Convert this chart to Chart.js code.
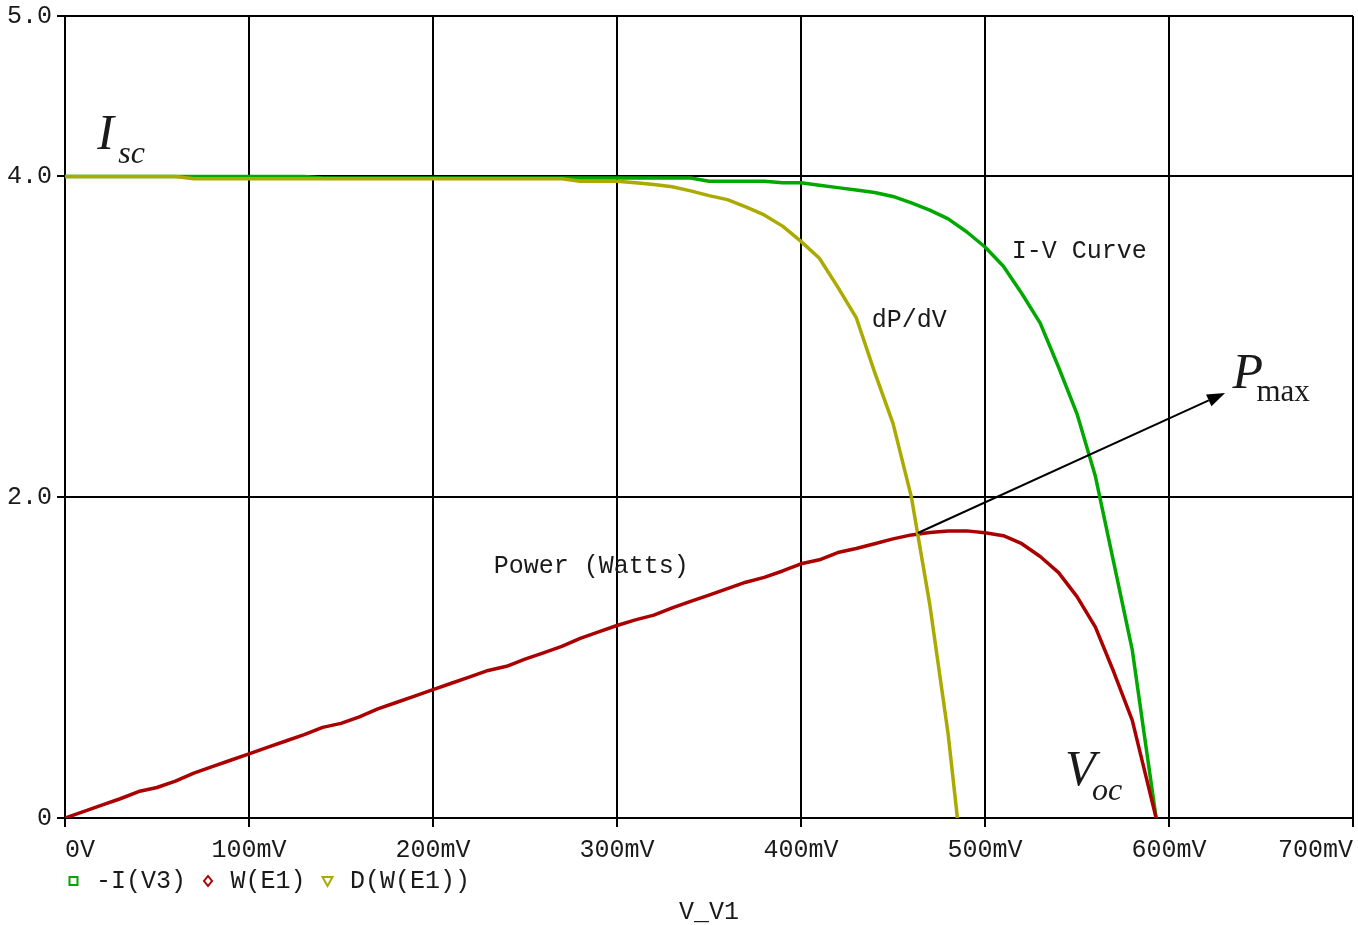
<!DOCTYPE html>
<html>
<head>
<meta charset="utf-8">
<title>Solar cell I-V and power sweep</title>
<script src="https://cdn.jsdelivr.net/npm/chart.js@4.4.1/dist/chart.umd.min.js"></script>
<style>
  html, body { margin: 0; padding: 0; background: #ffffff; }
  #wrap { width: 1358px; height: 925px; }
</style>
</head>
<body>
<div id="wrap"><canvas id="sweep" width="1358" height="925"></canvas></div>
<script>
// Sweep of V_V1 in millivolts for the cell current and power traces
const ivVoltageMv = [
  0, 10, 20, 30, 40, 50, 60, 70, 80, 90,
  100, 110, 120, 130, 140, 150, 160, 170, 180, 190,
  200, 210, 220, 230, 240, 250, 260, 270, 280, 290,
  300, 310, 320, 330, 340, 350, 360, 370, 380, 390,
  400, 410, 420, 430, 440, 450, 460, 470, 480, 490,
  500, 510, 520, 530, 540, 550, 560, 570, 580, 593
];

// -I(V3): cell current (A)
const cellCurrent = [
  4.00, 4.00, 4.00, 4.00, 4.00, 4.00, 4.00, 4.00, 4.00, 4.00,
  4.00, 4.00, 4.00, 4.00, 3.99, 3.99, 3.99, 3.99, 3.99, 3.99,
  3.99, 3.99, 3.99, 3.99, 3.99, 3.99, 3.99, 3.99, 3.99, 3.99,
  3.99, 3.99, 3.99, 3.99, 3.99, 3.97, 3.97, 3.97, 3.97, 3.96,
  3.96, 3.945, 3.93, 3.915, 3.90, 3.875, 3.835, 3.79, 3.735, 3.655,
  3.56, 3.44, 3.27, 3.085, 2.81, 2.52, 2.13, 1.59, 1.05, 0.00
];

// W(E1): delivered power (W)
const powerWatts = [
  0.00, 0.04, 0.08, 0.12, 0.165, 0.19, 0.23, 0.28, 0.32, 0.36,
  0.40, 0.44, 0.48, 0.52, 0.565, 0.59, 0.63, 0.68, 0.72, 0.76,
  0.80, 0.84, 0.88, 0.92, 0.946, 0.99, 1.03, 1.07, 1.12, 1.16,
  1.20, 1.235, 1.265, 1.31, 1.35, 1.39, 1.43, 1.47, 1.50, 1.54,
  1.585, 1.61, 1.655, 1.68, 1.71, 1.74, 1.765, 1.78, 1.79, 1.79,
  1.778, 1.76, 1.71, 1.63, 1.53, 1.38, 1.19, 0.91, 0.61, 0.00
];

// D(W(E1)): derivative of power with respect to V_V1
const dpdvVoltageMv = [
  0, 10, 20, 30, 40, 50, 60, 70, 80, 90,
  100, 110, 120, 130, 140, 150, 160, 170, 180, 190,
  200, 210, 220, 230, 240, 250, 260, 270, 280, 290,
  300, 310, 320, 330, 340, 350, 360, 370, 380, 390,
  400, 410, 420, 430, 440, 450, 460, 470, 480, 485
];
const dpdvValues = [
  4.00, 4.00, 4.00, 4.00, 4.00, 4.00, 4.00, 3.985, 3.985, 3.985,
  3.985, 3.985, 3.985, 3.985, 3.985, 3.985, 3.985, 3.985, 3.985, 3.985,
  3.985, 3.985, 3.985, 3.985, 3.985, 3.985, 3.985, 3.985, 3.97, 3.97,
  3.97, 3.96, 3.95, 3.935, 3.91, 3.88, 3.855, 3.81, 3.76, 3.69,
  3.595, 3.49, 3.31, 3.12, 2.78, 2.46, 2.00, 1.33, 0.52, 0.00
];

// Axis ticks
const xTickValuesMv = [0, 100, 200, 300, 400, 500, 600, 700];
const yTickValues = [0, 2, 4, 5];

// Trace names as probe expressions, with their colours and legend glyphs
const traceNames = ['-I(V3)', 'W(E1)', 'D(W(E1))'];
const traceColors = ['#00a800', '#aa0000', '#aaaa00'];
const traceGlyphs = ['square', 'diamond', 'triangle'];

const monoFont = '"Liberation Mono", "Courier New", monospace';
const serifFont = '"Liberation Serif", "Times New Roman", serif';
const inkColor = '#1a1a1a';

// Text labels placed in data coordinates (mV, value)
const curveNotes = [
  { text: 'I-V Curve', x: 514.5, y: 3.53 },
  { text: 'dP/dV', x: 438.5, y: 3.10 },
  { text: 'Power (Watts)', x: 233, y: 1.57 }
];

// Symbol labels: main letter (italic) plus subscript
const symbolNotes = [
  { main: 'I', sub: 'sc', subItalic: true, x: 17.5, y: 4.173, subDx: 21, subDy: 14, mainSize: 50, subSize: 32 },
  { main: 'V', sub: 'oc', subItalic: true, x: 543.5, y: 0.205, subDx: 27, subDy: 15, mainSize: 50, subSize: 32 },
  { main: 'P', sub: 'max', subItalic: false, x: 634.5, y: 2.68, subDx: 24, subDy: 13, mainSize: 50, subSize: 31 }
];

// Arrow from the maximum power point out to the P_max label
const pmaxArrow = { fromX: 463.5, fromY: 1.777, toX: 630.5, toY: 2.65 };

function toPoints(xs, ys) {
  return xs.map((x, i) => ({ x: x, y: ys[i] }));
}

const notesPlugin = {
  id: 'curveNotes',
  afterDatasetsDraw(chart) {
    const { ctx, scales: { x, y } } = chart;
    ctx.save();
    ctx.fillStyle = inkColor;
    ctx.font = '25px ' + monoFont;
    ctx.textAlign = 'left';
    ctx.textBaseline = 'middle';
    curveNotes.forEach(n => {
      ctx.fillText(n.text, x.getPixelForValue(n.x), y.getPixelForValue(n.y));
    });

    ctx.textBaseline = 'alphabetic';
    symbolNotes.forEach(s => {
      const px = x.getPixelForValue(s.x);
      const py = y.getPixelForValue(s.y);
      ctx.font = 'italic ' + s.mainSize + 'px ' + serifFont;
      ctx.fillText(s.main, px, py);
      ctx.font = (s.subItalic ? 'italic ' : '') + s.subSize + 'px ' + serifFont;
      ctx.fillText(s.sub, px + s.subDx, py + s.subDy);
    });

    // arrow shaft and head
    const x0 = x.getPixelForValue(pmaxArrow.fromX);
    const y0 = y.getPixelForValue(pmaxArrow.fromY);
    const x1 = x.getPixelForValue(pmaxArrow.toX);
    const y1 = y.getPixelForValue(pmaxArrow.toY);
    const ang = Math.atan2(y1 - y0, x1 - x0);
    const headLen = 18, headHalf = 6.5;
    const bx = x1 - headLen * Math.cos(ang);
    const by = y1 - headLen * Math.sin(ang);
    ctx.strokeStyle = '#000';
    ctx.fillStyle = '#000';
    ctx.lineWidth = 2;
    ctx.beginPath();
    ctx.moveTo(x0, y0);
    ctx.lineTo(bx, by);
    ctx.stroke();
    ctx.beginPath();
    ctx.moveTo(x1, y1);
    ctx.lineTo(bx + headHalf * Math.sin(ang), by - headHalf * Math.cos(ang));
    ctx.lineTo(bx - headHalf * Math.sin(ang), by + headHalf * Math.cos(ang));
    ctx.closePath();
    ctx.fill();
    ctx.restore();
  }
};

// Trace key drawn under the horizontal axis labels
const traceKeyPlugin = {
  id: 'traceKey',
  afterDraw(chart) {
    const { ctx, chartArea } = chart;
    const cy = chartArea.bottom + 63;
    let cursor = chartArea.left;
    ctx.save();
    ctx.font = '25px ' + monoFont;
    ctx.textBaseline = 'middle';
    ctx.textAlign = 'left';
    chart.data.datasets.forEach((ds, i) => {
      const mx = cursor + 8.5;
      ctx.strokeStyle = ds.borderColor;
      ctx.lineWidth = 2;
      ctx.beginPath();
      if (traceGlyphs[i] === 'square') {
        ctx.rect(mx - 4, cy - 4, 8, 8);
      } else if (traceGlyphs[i] === 'diamond') {
        ctx.moveTo(mx, cy - 5); ctx.lineTo(mx + 4, cy); ctx.lineTo(mx, cy + 5); ctx.lineTo(mx - 4, cy); ctx.closePath();
      } else {
        ctx.moveTo(mx - 5, cy - 4); ctx.lineTo(mx + 5, cy - 4); ctx.lineTo(mx, cy + 5); ctx.closePath();
      }
      ctx.stroke();
      ctx.fillStyle = inkColor;
      const tx = cursor + 31;
      ctx.fillText(ds.label, tx, cy);
      cursor = tx + ctx.measureText(ds.label).width + 13.5;
    });
    ctx.restore();
  }
};

const lineStyle = (i) => ({
  label: traceNames[i],
  borderColor: traceColors[i],
  backgroundColor: traceColors[i],
  borderWidth: 3.5,
  pointRadius: 0,
  pointHoverRadius: 0,
  tension: 0,
  fill: false,
  borderJoinStyle: 'round'
});

new Chart(document.getElementById('sweep'), {
  type: 'line',
  data: {
    datasets: [
      Object.assign(lineStyle(0), { data: toPoints(ivVoltageMv, cellCurrent), order: 3 }),
      Object.assign(lineStyle(1), { data: toPoints(ivVoltageMv, powerWatts), order: 2 }),
      Object.assign(lineStyle(2), { data: toPoints(dpdvVoltageMv, dpdvValues), order: 1 })
    ]
  },
  options: {
    responsive: false,
    animation: false,
    parsing: false,
    layout: { padding: { left: 0, right: 5, top: 16, bottom: 0 } },
    plugins: {
      legend: { display: false },
      tooltip: { enabled: false }
    },
    scales: {
      x: {
        type: 'linear',
        min: 0,
        max: 700,
        afterBuildTicks: (scale) => { scale.ticks = xTickValuesMv.map(v => ({ value: v })); },
        afterFit: (scale) => { scale.height = 107; scale.paddingLeft = 0; scale.paddingRight = 0; },
        ticks: {
          autoSkip: false,
          maxRotation: 0,
          align: 'inner',
          padding: 8,
          color: inkColor,
          font: { family: monoFont, size: 25 },
          callback: (v) => (v === 0 ? '0V' : v + 'mV')
        },
        grid: { color: '#000', lineWidth: 2, tickLength: 9 },
        border: { color: '#000', width: 2 },
        title: {
          display: true,
          text: 'V_V1',
          color: inkColor,
          font: { family: monoFont, size: 25, lineHeight: 1 },
          padding: { top: 0, bottom: 0 }
        }
      },
      y: {
        type: 'linear',
        min: 0,
        max: 5,
        afterBuildTicks: (scale) => { scale.ticks = yTickValues.map(v => ({ value: v })); },
        afterFit: (scale) => { scale.width = 65; scale.paddingTop = 0; scale.paddingBottom = 0; },
        ticks: {
          padding: 5,
          color: inkColor,
          font: { family: monoFont, size: 25 },
          callback: (v) => (v === 0 ? '0' : v.toFixed(1))
        },
        grid: { color: '#000', lineWidth: 2, tickLength: 8 },
        border: { color: '#000', width: 2 }
      }
    }
  },
  plugins: [notesPlugin, traceKeyPlugin]
});
</script>
</body>
</html>
